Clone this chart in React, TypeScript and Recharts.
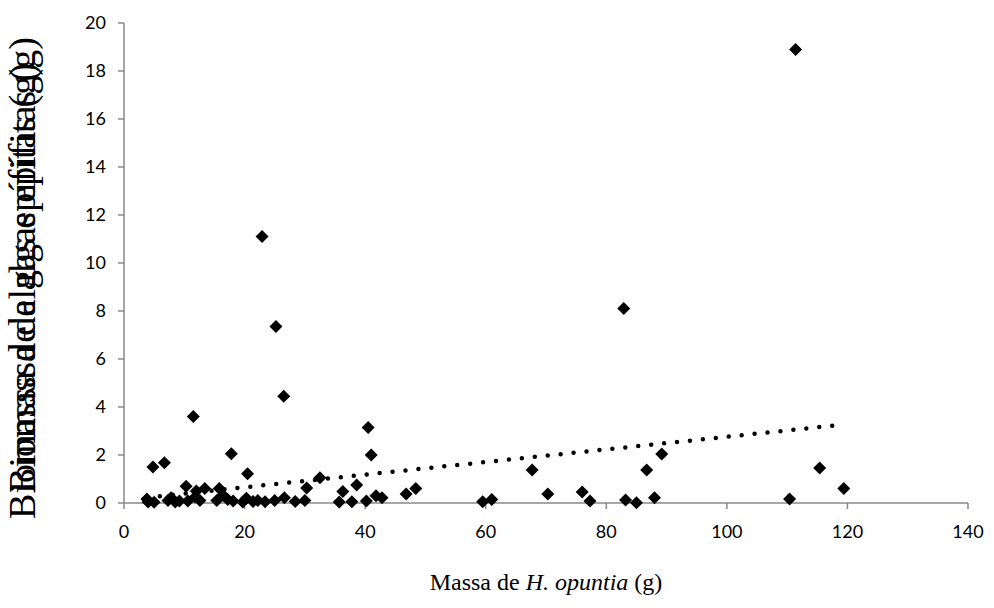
import React from 'react'
import { ScatterChart, Scatter, XAxis, YAxis } from 'recharts'

// massa de H. opuntia (g)
const hostMass = [
  3.8, 4.0, 4.8, 5.0, 6.7, 7.3, 7.8, 8.5, 9.2, 10.3, 10.6, 11.5, 11.8, 12.0, 12.6, 13.4,
  15.4, 15.8, 16.4, 17.2, 17.8, 18.1, 19.7, 20.3, 20.5, 21.4, 22.2, 22.9, 23.4, 25.0, 25.2,
  26.5, 26.6, 28.4, 30.0, 30.3, 32.5, 35.7, 36.3, 37.8, 38.6, 40.2, 40.5, 41.0, 41.8, 42.8,
  46.8, 48.4, 59.5, 61.0, 67.7, 70.3, 76.0, 77.3, 82.9, 83.2, 85.0, 86.7, 88.0, 89.2,
  110.4, 111.4, 115.4, 119.4,
]
// biomassa de epífitas (g)
const epiphyteMass = [
  0.17, 0.04, 1.5, 0.03, 1.68, 0.1, 0.22, 0.04, 0.08, 0.7, 0.08, 3.6, 0.25, 0.5, 0.1, 0.6,
  0.1, 0.6, 0.33, 0.15, 2.05, 0.08, 0.04, 0.2, 1.22, 0.06, 0.1, 11.1, 0.05, 0.1, 7.35,
  4.45, 0.22, 0.06, 0.1, 0.62, 1.05, 0.04, 0.48, 0.05, 0.75, 0.08, 3.15, 2.0, 0.3, 0.22,
  0.37, 0.6, 0.05, 0.15, 1.37, 0.37, 0.46, 0.08, 8.1, 0.12, 0.01, 1.37, 0.22, 2.04,
  0.17, 18.9, 1.46, 0.6,
]
// linha de tendência (linear), extremos
const trendX = [3.8, 119.4]
const trendY = [0.23, 3.27]

const xTicks = [0, 20, 40, 60, 80, 100, 120, 140]
const yTicks = [0, 2, 4, 6, 8, 10, 12, 14, 16, 18, 20]

// the source has the y title drawn twice, slightly offset
const yTitle = 'Biomassa de algas epífitas (g)'
const yTitleShifts = [28, 2]

const points = hostMass.map((x, i) => ({ x, y: epiphyteMass[i] }))
const trend = trendX.map((x, i) => ({ x, y: trendY[i] }))

const axisColor = '#898989'
const tickFont = { fontSize: 18, fill: '#000', fontFamily: 'Lato, "Liberation Sans", sans-serif' }

const Diamond = (props: any) => {
  const { cx, cy } = props
  const r = 6.5
  return <polygon points={`${cx},${cy - r} ${cx + r},${cy} ${cx},${cy + r} ${cx - r},${cy}`} fill="#000" />
}

const XTitle = (props: any) => {
  const { viewBox } = props
  const cx = viewBox.x + viewBox.width / 2
  return (
    <text x={cx} y={viewBox.y + 87} textAnchor="middle" fontSize={24} fontFamily='"Liberation Serif", serif' fill="#000">
      Massa de <tspan fontStyle="italic">H. opuntia</tspan> (g)
    </text>
  )
}

const YTitle = (props: any) => {
  const { viewBox } = props
  const mid = viewBox.y + viewBox.height / 2
  const x = 35
  return (
    <g>
      {yTitleShifts.map(s => (
        <text key={s} x={x} y={mid + s} transform={`rotate(-90 ${x} ${mid + s})`} textAnchor="middle" fontSize={38}
          fontFamily='"Liberation Serif", serif' fill="#000">
          {yTitle}
        </text>
      ))}
    </g>
  )
}

export default function App() {
  return (
    <div style={{ position: 'absolute', left: 0, top: 0, background: '#fff' }}>
      <ScatterChart width={994} height={608} margin={{ top: 23, right: 26, left: 0, bottom: 0 }}>
        <XAxis
          type="number"
          dataKey="x"
          domain={[0, 140]}
          ticks={xTicks}
          height={105}
          tickSize={6}
          tickMargin={16}
          tick={tickFont}
          axisLine={{ stroke: axisColor, strokeWidth: 1.5 }}
          tickLine={{ stroke: axisColor, strokeWidth: 1.5 }}
          label={<XTitle />}
        />
        <YAxis
          type="number"
          dataKey="y"
          domain={[0, 20]}
          ticks={yTicks}
          width={124}
          tickSize={6}
          tickMargin={12}
          tick={tickFont}
          axisLine={{ stroke: axisColor, strokeWidth: 1.5 }}
          tickLine={{ stroke: axisColor, strokeWidth: 1.5 }}
          label={<YTitle />}
        />
        <Scatter data={points} shape={<Diamond />} isAnimationActive={false} />
        <Scatter
          data={trend}
          line={{ stroke: '#000', strokeWidth: 4.5, strokeDasharray: '0 13', strokeLinecap: 'round' }}
          shape={() => <g />}
          isAnimationActive={false}
        />
      </ScatterChart>
    </div>
  )
}
